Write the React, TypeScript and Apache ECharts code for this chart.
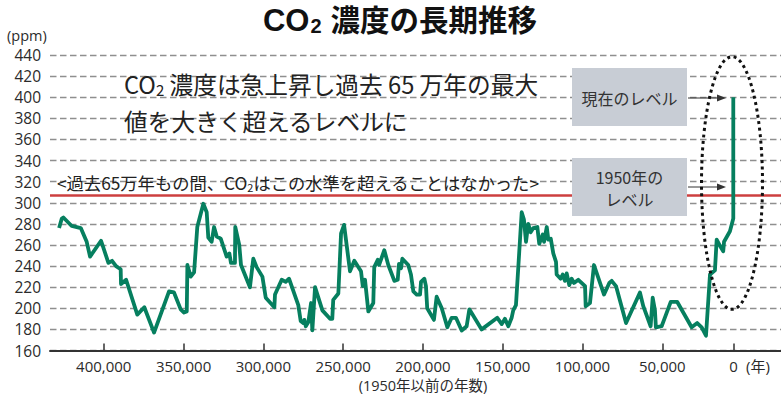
import React, { useEffect, useRef } from 'react';
import * as echarts from 'echarts';

// Years before 1950 and CO2 concentration (ppm)
const yearsBP = [
  428000, 426300, 425300, 420100, 414400, 410700, 408600, 401700, 397100, 394800,
  392300, 389400, 389200, 386000, 379000, 374600, 368500, 359100, 356000, 351800,
  349700, 348000, 347600, 345500, 343400, 341400, 337600, 335500, 334500, 332400,
  330900, 329200, 326700, 323000, 321300, 320300, 317800, 317600, 315100, 314000,
  308400, 306300, 304200, 300600, 298500, 293100, 292700, 288500, 286000, 283900,
  278100, 276600, 275000, 274300, 273400, 271800, 270100, 269300, 267600, 263000,
  258200, 256800, 256200, 253000, 251300, 249400, 245700, 243000, 238800, 237700,
  236300, 234200, 231100, 230500, 228300, 227500, 224200, 221700, 217900, 215800,
  215000, 213700, 212900, 209200, 207500, 206000, 203900, 201800, 201200, 199100,
  198100, 197300, 193100, 191400, 188200, 184700, 182000, 179300, 175700, 172600,
  170900, 163200, 153400, 150600, 148600, 146500, 144400, 143400, 141700, 138100,
  136700, 135400, 134000, 132500, 130800, 128300, 127100, 124900, 124100, 122400,
  121400, 119900, 118300, 116600, 116200, 113700, 112400, 111000, 109900, 108300,
  106800, 105300, 102600, 98400, 98000, 95300, 92800, 86500, 83200, 81700,
  79000, 72700, 64000, 61900, 57300, 56000, 54600, 54000, 50400, 48900,
  44700, 40600, 31600, 28100, 25300, 22600, 20100, 17000, 15900, 13400,
  11800, 11300, 7600, 5500, 5500, 5500
];
const co2 = [
  276, 285, 286, 278, 276, 263, 249, 264, 243, 245,
  240, 237, 223, 227, 194, 201, 177, 216, 215, 199,
  196, 197, 241, 230, 234, 277, 299, 291, 267, 263,
  277, 268, 266, 249, 252, 243, 243, 277, 260, 241,
  220, 247, 239, 230, 210, 201, 213, 227, 225, 228,
  203, 188, 186, 189, 183, 187, 205, 179, 220, 198,
  190, 190, 208, 214, 271, 279, 235, 245, 235, 221,
  227, 197, 205, 239, 246, 241, 255, 241, 226, 227,
  242, 238, 247, 241, 232, 216, 213, 213, 225, 228,
  221, 200, 189, 211, 200, 182, 191, 191, 179, 183,
  199, 180, 191, 185, 190, 183, 191, 198, 203, 291,
  284, 263, 280, 272, 276, 277, 261, 270, 263, 277,
  265, 266, 252, 244, 232, 228, 232, 226, 233, 222,
  228, 224, 227, 221, 202, 205, 241, 213, 224, 226,
  221, 186, 215, 202, 183, 210, 198, 182, 183, 189,
  206, 206, 182, 186, 182, 174, 232, 236, 265, 258,
  254, 263, 273, 285, 300, 400
];

const xTickValues = [400000, 350000, 300000, 250000, 200000, 150000, 100000, 50000, 5300];
const xTickLabels = ['400,000', '350,000', '300,000', '250,000', '200,000', '150,000', '100,000', '50,000', '0'];
const yMin = 160;
const yMax = 440;
const yStep = 20;
const level1950 = 307;

export default function App() {
  const ref = useRef<HTMLDivElement>(null);

  useEffect(() => {
    const chart = echarts.init(ref.current!, null, { renderer: 'svg' });
    const font = "'Open Sans', 'Noto Sans CJK JP', sans-serif";
    const jp = "'Noto Sans CJK JP', 'Open Sans', sans-serif";
    const titleFont = "'Liberation Sans', 'Noto Sans CJK JP', sans-serif";
    const textColor = '#2b2b2b';

    const data = yearsBP.map((x, i) => [x, co2[i]]);

    const arrow = (y: number) => [
      {
        type: 'line',
        z: 10,
        shape: { x1: 688, y1: y, x2: 719, y2: y },
        style: { stroke: '#333', lineWidth: 1 },
      },
      {
        type: 'polygon',
        z: 10,
        shape: { points: [[726, y], [717, y - 3.5], [717, y + 3.5]] },
        style: { fill: '#333' },
      },
    ];

    chart.setOption({
      animation: false,
      backgroundColor: '#ffffff',
      grid: {
        left: 50,
        right: 0,
        top: 55,
        bottom: 43.5,
        containLabel: false,
        outerBoundsMode: 'none',
      },
      xAxis: {
        type: 'value',
        inverse: true,
        min: -24400,
        max: 433700,
        axisLine: { show: true, lineStyle: { color: '#333', width: 2 } },
        axisTick: {
          show: true,
          inside: true,
          length: 7,
          customValues: xTickValues,
          lineStyle: { color: '#333', width: 1.5 },
        },
        axisLabel: {
          customValues: xTickValues,
          formatter: (v: number) => {
            const i = xTickValues.indexOf(v);
            return i >= 0 ? xTickLabels[i] : '';
          },
          fontSize: 15,
          fontFamily: font,
          color: textColor,
          margin: 8,
        },
        splitLine: { show: false },
      },
      yAxis: {
        type: 'value',
        min: yMin,
        max: yMax,
        interval: yStep,
        axisLine: { show: false },
        axisTick: { show: false },
        axisLabel: {
          fontSize: 15.5,
          fontFamily: font,
          color: textColor,
          margin: 9,
        },
        splitLine: {
          show: true,
          lineStyle: { color: '#8f8f8f', width: 1.3, type: [6.5, 3.5] },
        },
      },
      series: [
        {
          type: 'line',
          data,
          showSymbol: false,
          symbol: 'none',
          lineStyle: { color: '#067f5f', width: 3.8, join: 'round' },
          z: 3,
          markLine: {
            silent: true,
            symbol: ['none', 'none'],
            label: { show: false },
            lineStyle: { color: '#cd3f3f', width: 2.5, type: 'solid' },
            data: [{ yAxis: level1950 }],
            z: 2,
          },
        },
      ],
      graphic: [
        {
          type: 'text',
          z: 10,
          x: 400,
          y: 20,
          style: {
            text: '{c|CO}{s|2}{a|濃度の長期推移}',
            align: 'center',
            verticalAlign: 'middle',
            rich: {
              c: { fontSize: 31, fontWeight: 'bold', fontFamily: titleFont, fill: '#111', lineHeight: 32 },
              a: { fontSize: 29.5, fontWeight: 'bold', fontFamily: titleFont, fill: '#111', lineHeight: 32 },
              s: { fontSize: 20, fontWeight: 'bold', fontFamily: titleFont, fill: '#111', lineHeight: 22, verticalAlign: 'bottom', padding: [0, 9, 0, 1] },
            },
          },
        },
        {
          type: 'text',
          z: 10,
          x: 7,
          y: 35,
          style: { text: '(ppm)', fontSize: 14.5, fontFamily: font, fill: textColor, align: 'left', verticalAlign: 'middle' },
        },
        {
          type: 'text',
          z: 10,
          x: 124,
          y: 84,
          style: {
            text: '{a|CO}{s|2}{a| 濃度は急上昇し過去 65 万年の最大}',
            align: 'left',
            verticalAlign: 'middle',
            rich: {
              a: { fontSize: 23.7, fontFamily: jp, fill: '#222', lineHeight: 26 },
              s: { fontSize: 15, fontFamily: jp, fill: '#222', lineHeight: 14, verticalAlign: 'bottom' },
            },
          },
        },
        {
          type: 'text',
          z: 10,
          x: 124,
          y: 121,
          style: {
            text: '値を大きく超えるレベルに',
            fontSize: 23.7,
            fontFamily: jp,
            fill: '#222',
            align: 'left',
            verticalAlign: 'middle',
          },
        },
        {
          type: 'text',
          z: 10,
          x: 57,
          y: 182,
          style: {
            text: '{a|<過去65万年もの間、CO}{s|2}{a|はこの水準を超えることはなかった>}',
            align: 'left',
            verticalAlign: 'middle',
            rich: {
              a: { fontSize: 17.3, fontFamily: jp, fill: '#222', lineHeight: 21 },
              s: { fontSize: 11, fontFamily: jp, fill: '#222', lineHeight: 10, verticalAlign: 'bottom' },
            },
          },
        },
        {
          type: 'rect',
          z: 9,
          shape: { x: 572, y: 68, width: 115, height: 58 },
          style: { fill: '#c8cdd5' },
        },
        {
          type: 'text',
          z: 10,
          x: 629.5,
          y: 98,
          style: { text: '現在のレベル', fontSize: 16, fontFamily: jp, fill: '#333', align: 'center', verticalAlign: 'middle' },
        },
        {
          type: 'rect',
          z: 9,
          shape: { x: 572, y: 158, width: 115, height: 58 },
          style: { fill: '#c8cdd5' },
        },
        {
          type: 'text',
          z: 10,
          x: 629.5,
          y: 188,
          style: {
            text: '1950年の\nレベル',
            fontSize: 16,
            lineHeight: 22,
            fontFamily: jp,
            fill: '#333',
            align: 'center',
            verticalAlign: 'middle',
          },
        },
        ...arrow(98),
        ...arrow(187),
        {
          type: 'ellipse',
          z: 10,
          shape: { cx: 732, cy: 183, rx: 30.5, ry: 126.3 },
          style: { fill: 'transparent', stroke: '#111', lineWidth: 3, lineDash: [3, 3.5] },
        },
        {
          type: 'text',
          z: 10,
          x: 746,
          y: 366,
          style: { text: '(年)', fontSize: 15, fontFamily: font, fill: textColor, align: 'left', verticalAlign: 'middle' },
        },
        {
          type: 'text',
          z: 10,
          x: 423,
          y: 385,
          style: { text: '(1950年以前の年数)', fontSize: 14.5, fontFamily: font, fill: textColor, align: 'center', verticalAlign: 'middle' },
        },
      ],
    });

    return () => chart.dispose();
  }, []);

  return (
    <div
      ref={ref}
      style={{ position: 'fixed', left: 0, top: 0, width: 781, height: 394, background: '#fff' }}
    />
  );
}
